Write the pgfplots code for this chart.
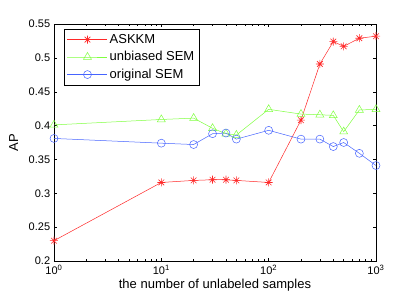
\documentclass[border=0pt]{standalone}
\usepackage{fontspec}
\setmainfont{Liberation Sans}
\usepackage{pgfplots}
\pgfplotsset{compat=1.18}
\definecolor{cred}{RGB}{255,40,40}
\definecolor{cgreen}{RGB}{128,255,64}
\definecolor{cblue}{RGB}{70,100,255}
\pgfdeclareplotmark{mstar}{%
  \pgfpathmoveto{\pgfqpoint{-\pgfplotmarksize}{0pt}}\pgfpathlineto{\pgfqpoint{\pgfplotmarksize}{0pt}}%
  \pgfpathmoveto{\pgfqpoint{0pt}{-\pgfplotmarksize}}\pgfpathlineto{\pgfqpoint{0pt}{\pgfplotmarksize}}%
  \pgfpathmoveto{\pgfqpoint{-0.707\pgfplotmarksize}{-0.707\pgfplotmarksize}}\pgfpathlineto{\pgfqpoint{0.707\pgfplotmarksize}{0.707\pgfplotmarksize}}%
  \pgfpathmoveto{\pgfqpoint{-0.707\pgfplotmarksize}{0.707\pgfplotmarksize}}\pgfpathlineto{\pgfqpoint{0.707\pgfplotmarksize}{-0.707\pgfplotmarksize}}%
  \pgfusepathqstroke}
\begin{document}
\fontsize{11}{13}\selectfont
\begin{tikzpicture}[x=1pt,y=1pt]
\path[use as bounding box] (-54,-40) rectangle (361,261);
\begin{axis}[
  at={(0,0)}, anchor=south west,
  scale only axis, width=322pt, height=237pt,
  xmode=log, xmin=1, xmax=1000,
  ymin=0.2, ymax=0.55,
  ytick={0.2,0.25,0.3,0.35,0.4,0.45,0.5,0.55},
  yticklabels={0.2,0.25,0.3,0.35,0.4,0.45,0.5,0.55},
  xtick={1,10,100,1000},
  xticklabels={10\textsuperscript{0},10\textsuperscript{1},10\textsuperscript{2},10\textsuperscript{3}},
  tick label style={font=\fontsize{11}{13}\selectfont},
  tick align=inside, tick pos=both,
  major tick length=3pt, minor tick length=1.8pt,
  tick style={black, line width=0.4pt},
  axis line style={black, line width=0.5pt},
  xlabel={the number of unlabeled samples},
  ylabel={AP},
  label style={font=\fontsize{13}{15}\selectfont},
  xlabel style={yshift=3pt},
  ylabel style={yshift=3pt},
  /pgf/number format/assume math mode=true,
  legend style={at={(rel axis cs:0.031,0.979)}, anchor=north west, draw=black, line width=0.5pt, inner xsep=3pt, inner ysep=3pt, row sep=2.5pt, font=\fontsize{13}{15}\selectfont},
  legend cell align=left,
  legend image code/.code={\draw[mark repeat=2,mark phase=2] plot coordinates {(0pt,0pt) (20pt,0pt) (40pt,0pt)};},
]
\addplot[cred, line width=0.5pt, mark=mstar, mark size=4pt, mark options={line width=0.6pt}] coordinates {
(1,0.230) (10,0.316) (20,0.319) (30,0.320) (40,0.320) (50,0.319) (100,0.316)
(200,0.408) (300,0.491) (400,0.524) (500,0.517) (700,0.529) (1000,0.532)};
\addlegendentry{ASKKM}
\addplot[cgreen, line width=0.5pt, mark=triangle, mark size=4.6pt] coordinates {
(1,0.401) (10,0.409) (20,0.411) (30,0.396) (40,0.388) (50,0.386) (100,0.424)
(200,0.417) (300,0.416) (400,0.415) (500,0.391) (700,0.423) (1000,0.424)};
\addlegendentry{unbiased SEM}
\addplot[cblue, line width=0.5pt, mark=o, mark size=4pt] coordinates {
(1,0.381) (10,0.374) (20,0.372) (30,0.388) (40,0.389) (50,0.380) (100,0.393)
(200,0.380) (300,0.380) (400,0.369) (500,0.375) (700,0.359) (1000,0.341)};
\addlegendentry{original SEM}
\end{axis}
\end{tikzpicture}
\end{document}
